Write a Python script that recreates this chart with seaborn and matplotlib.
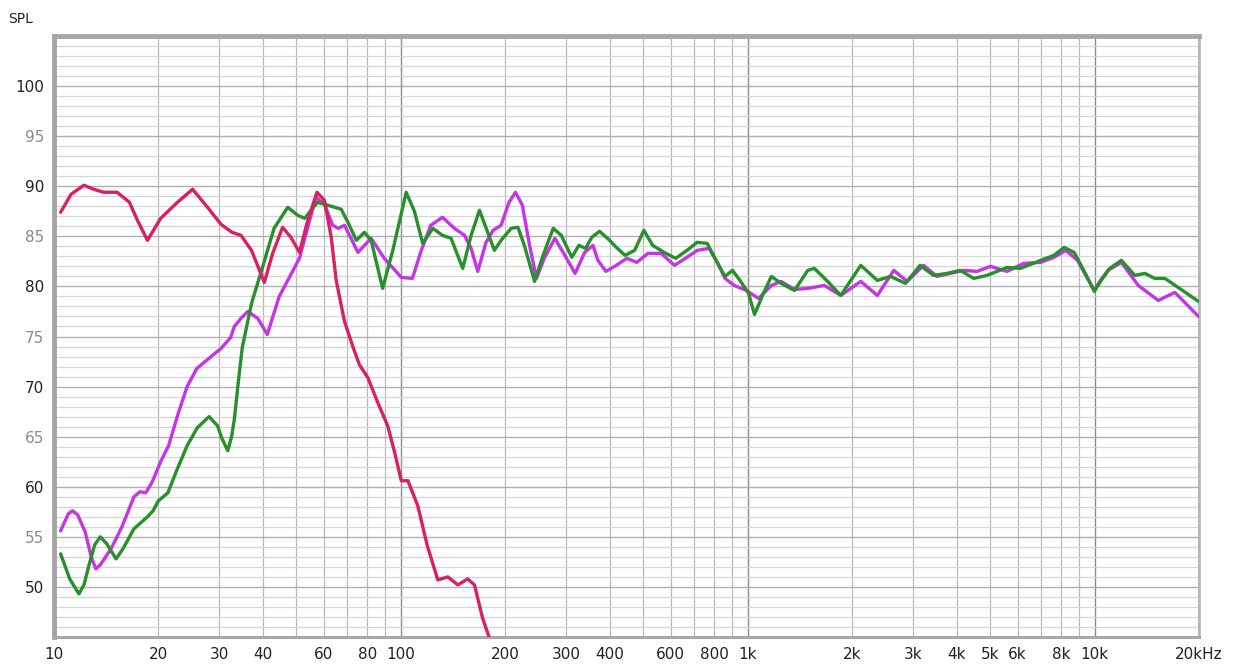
import numpy as np
import pandas as pd
import matplotlib
matplotlib.use("Agg")
import matplotlib.pyplot as plt
import seaborn as sns

# ---- data ----
red_f = [10.45, 11.2, 12.2, 13.0, 13.9, 15.2, 16.5, 17.4, 18.6, 20.3, 22.7, 25.1, 27.7,
         30.3, 32.6, 34.6, 37.1, 40.4, 42.7, 45.6, 48.2, 51.0, 53.9, 57.3, 60.2, 63.0,
         65.1, 68.8, 72.7, 75.9, 80.3, 85.8, 91.6, 96.0, 100.3, 104.8, 111.9, 119.2,
         127.8, 136.6, 146, 155.9, 163, 172, 180]
red_db = [87.4, 89.2, 90.1, 89.7, 89.4, 89.4, 88.4, 86.6, 84.6, 86.8, 88.4, 89.7, 87.9,
          86.2, 85.4, 85.1, 83.6, 80.4, 83.3, 85.9, 84.9, 83.4, 86.6, 89.4, 88.6, 84.9,
          80.6, 76.5, 74.0, 72.2, 70.9, 68.4, 66.1, 63.4, 60.6, 60.6, 58.1, 54.1,
          50.7, 51.0, 50.2, 50.8, 50.2, 46.9, 44.9]

purple_f = [10.45, 11.0, 11.3, 11.7, 12.3, 12.8, 13.2, 13.6, 14.6, 15.7, 17.0, 17.7, 18.4,
            19.2, 20.3, 21.4, 22.8, 24.2, 25.8, 27.7, 30.3, 32.3, 33.1, 34.6, 36.2, 38.7,
            41.2, 44.6, 47.2, 51.0, 53.9, 56.9, 60.2, 63.6, 66.0, 68.8, 75.2, 82.1, 89.6,
            100.3, 108, 114, 122, 131.8, 142.7, 152.6, 159.4, 166.6, 176, 184.5, 194.5,
            205, 214, 224, 235, 246, 259, 278, 297, 318, 339, 358, 370, 390, 418, 448,
            479, 516, 563, 615, 668, 715, 774, 820, 860, 914, 990, 1075, 1170, 1248, 1364,
            1490, 1662, 1855, 2118, 2364, 2638, 2881, 3213, 3512, 3838, 4194, 4583, 5009,
            5596, 6249, 6986, 7637, 8258, 8934, 9400, 9983, 10400, 10930, 11950, 13360,
            15260, 17040, 19940]
purple_db = [55.6, 57.3, 57.6, 57.2, 55.5, 53.0, 51.8, 52.2, 53.8, 56.0, 59.0, 59.5, 59.4,
             60.5, 62.5, 64.1, 67.3, 70.0, 71.8, 72.7, 73.8, 74.9, 76.0, 76.8, 77.5, 76.8,
             75.2, 79.0, 80.6, 82.8, 85.9, 88.9, 88.2, 86.1, 85.8, 86.1, 83.4, 84.8, 82.8,
             80.9, 80.8, 83.4, 86.1, 86.9, 85.8, 85.1, 83.8, 81.5, 84.4, 85.6, 86.1,
             88.4, 89.4, 88.1, 84.1, 80.8, 82.8, 84.8, 83.1, 81.3, 83.4, 84.1, 82.6, 81.5,
             82.1, 82.8, 82.4, 83.3, 83.3, 82.1, 82.9, 83.6, 83.8, 82.3, 80.8, 80.1, 79.6,
             78.8, 80.1, 80.5, 79.7, 79.8, 80.1, 79.1, 80.5, 79.1, 81.6, 80.5, 82.1, 81.0,
             81.3, 81.6, 81.5, 82.0, 81.5, 82.3, 82.4, 82.9, 83.6, 82.6, 81.2, 79.6, 80.6,
             81.6, 82.4, 80.1, 78.6, 79.4, 77.0]

green_f = [10.45, 11.1, 11.8, 12.2, 12.6, 13.1, 13.6, 14.2, 15.1, 15.8, 17.0, 18.6, 19.3,
           20.0, 21.3, 22.5, 24.2, 25.9, 28.0, 29.6, 30.5, 31.7, 32.5, 33.1, 34.0, 34.9,
           37.1, 39.9, 43.1, 47.2, 50.4, 52.8, 57.5, 61.6, 67.3, 70.4, 74.4, 78.5, 82.1,
           88.6, 94.8, 103.6, 109.4, 115.6, 123.6, 131.8, 139.6, 150.8, 159.4, 168.5, 178,
           186, 194.5, 208, 217.5, 227, 243, 257, 275, 290, 311, 326, 341, 355, 374, 400,
           418, 443, 472, 502, 532, 574, 620, 668, 715, 764, 810, 860, 904, 950, 1006,
           1046, 1110, 1170, 1248, 1364, 1490, 1556, 1700, 1855, 2118, 2364, 2580, 2850,
           3140, 3434, 3753, 4101, 4482, 4898, 5596, 6116, 6986, 7637, 8165, 8733, 9400,
           9983, 10400, 11060, 11950, 13060, 13960, 14920, 15950, 19940]
green_db = [53.3, 50.8, 49.3, 50.2, 52.1, 54.2, 55.0, 54.3, 52.8, 53.8, 55.8, 57.0, 57.6,
            58.6, 59.4, 61.5, 64.1, 65.9, 67.0, 66.1, 64.8, 63.6, 65.0, 66.7, 70.5, 73.9,
            78.3, 81.9, 85.8, 87.9, 87.1, 86.8, 88.4, 88.1, 87.7, 86.4, 84.6, 85.4, 84.6,
            79.8, 83.6, 89.4, 87.5, 84.3, 85.8, 85.1, 84.8, 81.8, 85.1, 87.6, 85.4,
            83.6, 84.6, 85.8, 85.9, 84.1, 80.5, 83.1, 85.8, 85.1, 82.9, 84.1, 83.8, 84.9,
            85.5, 84.6, 83.9, 83.1, 83.6, 85.6, 84.1, 83.4, 82.8, 83.6, 84.4, 84.3, 82.6,
            81.0, 81.6, 80.6, 79.3, 77.2, 79.3, 81.0, 80.3, 79.6, 81.6, 81.8, 80.5, 79.1,
            82.1, 80.6, 81.0, 80.3, 82.1, 81.1, 81.3, 81.6, 80.8, 81.1, 81.9, 81.8, 82.6,
            83.1, 83.9, 83.4, 81.3, 79.5, 80.5, 81.8, 82.6, 81.1, 81.3, 80.8, 80.8, 78.5]

x_major = [10, 100, 1000, 10000]
x_major_labels = ["10", "100", "1k", "10k"]
x_minor = [20, 30, 40, 50, 60, 70, 80, 90, 200, 300, 400, 500, 600, 700, 800, 900,
           2000, 3000, 4000, 5000, 6000, 7000, 8000, 9000, 20000]
x_minor_labels = ["20", "30", "40", "", "60", "", "80", "", "200", "300", "400", "", "600",
                  "", "800", "", "2k", "3k", "4k", "5k", "6k", "", "8k", "", "20kHz"]
y_ticks = [50, 55, 60, 65, 70, 75, 80, 85, 90, 95, 100]

df = pd.concat([
    pd.DataFrame({"f": purple_f, "db": purple_db, "s": "purple"}),
    pd.DataFrame({"f": green_f, "db": green_db, "s": "green"}),
    pd.DataFrame({"f": red_f, "db": red_db, "s": "red"}),
], ignore_index=True)

sns.set_style("white")
plt.rcParams["font.family"] = ["DejaVu Sans"]

fig = plt.figure(figsize=(12.33, 6.69), dpi=100)
ax = fig.add_axes([54 / 1233, 32 / 669, 1145 / 1233, 601 / 669])

palette = {"purple": "#c535e3", "green": "#27902b", "red": "#da1f64"}
sns.lineplot(data=df, x="f", y="db", hue="s", palette=palette, sort=False,
             estimator=None, linewidth=2.4, legend=False, ax=ax, zorder=3,
             solid_joinstyle="round", solid_capstyle="round")

ax.set_xscale("log")
ax.set_xlim(10, 20000)
ax.set_ylim(45, 105)

ax.set_xticks(x_major)
ax.set_xticklabels(x_major_labels)
ax.set_xticks(x_minor, minor=True)
ax.set_xticklabels(x_minor_labels, minor=True)
ax.set_yticks(y_ticks)
ax.set_yticklabels([str(v) for v in y_ticks])
ax.set_yticks(np.arange(46, 105, 1), minor=True)

ax.grid(True, which="major", axis="x", color="#8a8a8a", linewidth=1.0, zorder=1)
ax.grid(True, which="minor", axis="x", color="#b8b8b8", linewidth=0.9, zorder=1)
ax.grid(True, which="major", axis="y", color="#b0b0b0", linewidth=1.0, zorder=1)
ax.grid(True, which="minor", axis="y", color="#d6d6d6", linewidth=0.9, zorder=1)
ax.set_axisbelow(True)

ax.tick_params(axis="both", which="both", length=0, labelsize=11, colors="#222222")
ax.tick_params(axis="x", which="both", pad=7)
ax.tick_params(axis="y", which="both", pad=7)
for lab, v in zip(ax.get_yticklabels(), y_ticks):
    lab.set_color("#222222" if v % 10 == 0 else "#8c8c8c")

for side, sp in ax.spines.items():
    sp.set_visible(True)
ax.spines["left"].set_color("#a4a4a4")
ax.spines["left"].set_linewidth(3.5)
ax.spines["top"].set_color("#a8a8a8")
ax.spines["top"].set_linewidth(3.5)
ax.spines["right"].set_color("#b4b4b4")
ax.spines["right"].set_linewidth(2.0)
ax.spines["bottom"].set_color("#a8a8a8")
ax.spines["bottom"].set_linewidth(2.2)

ax.set_xlabel("")
ax.set_ylabel("")
fig.text(8 / 1233, 1 - 19 / 669, "SPL", fontsize=10, color="#222222", va="center", ha="left")

fig.savefig("out.png", dpi=100, facecolor="white")
